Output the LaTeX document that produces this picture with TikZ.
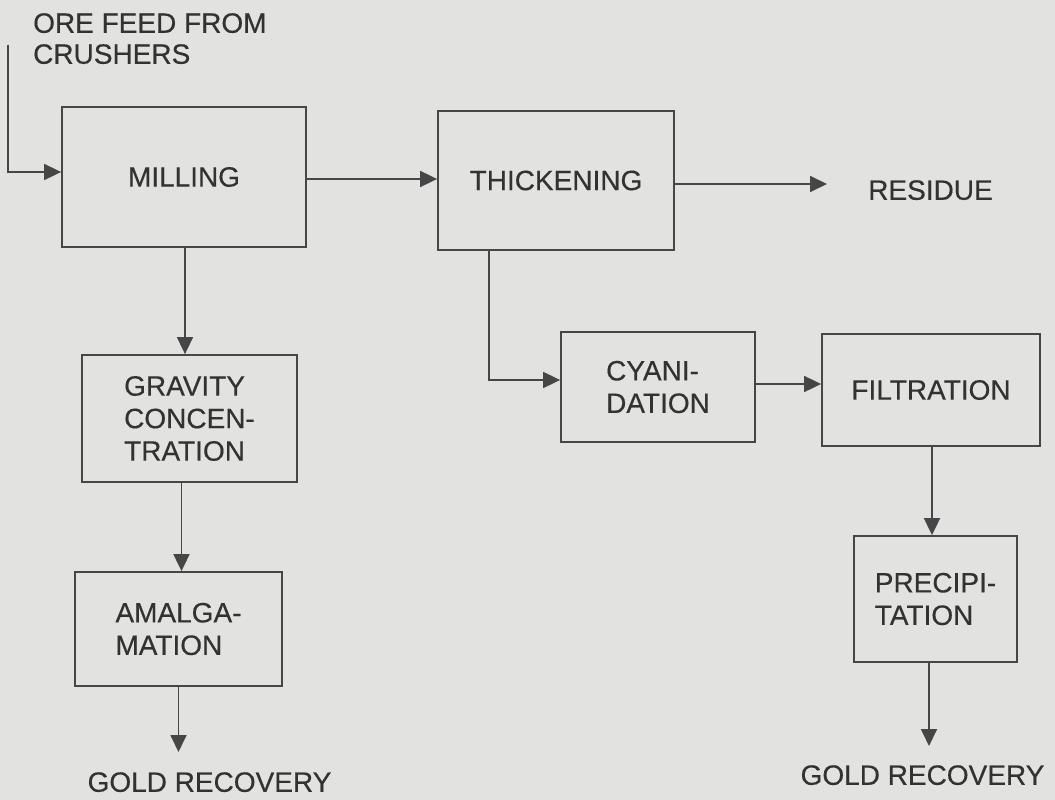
\documentclass[tikz,border=0pt]{standalone}
\usepackage{fontspec}
\setmainfont[FakeBold=0.35]{Liberation Sans}
\usetikzlibrary{arrows.meta}
\definecolor{paper}{RGB}{226,226,224}
\definecolor{ink}{RGB}{70,70,70}
\definecolor{type}{RGB}{50,50,50}
\begin{document}
\begin{tikzpicture}[x=1pt, y=-1pt,
  font=\fontsize{28}{32.5}\selectfont, text=type,
  stage/.style={draw=ink, line width=1.8pt, align=left, inner sep=0pt},
  flow/.style={draw=ink, line width=1.8pt, -{Triangle[length=17pt,width=16pt]}},
  caption/.style={inner sep=0pt, text depth=0pt, align=left}]
  % sheet
  \fill[paper] (0,0) rectangle (1055,800);
  \useasboundingbox (0,0) rectangle (1055,800);

  % process stages
  \node[stage, minimum width=244pt, minimum height=140pt] (mill)  at (184,177)   {MILLING};
  \node[stage, minimum width=236pt, minimum height=139pt] (thick) at (556,180.5) {THICKENING};
  \node[stage, minimum width=215pt, minimum height=127pt] (grav)  at (189.5,418.5) {GRAVITY\\CONCEN-\\TRATION};
  \node[stage, minimum width=207pt, minimum height=114pt] (amal)  at (178.5,629) {AMALGA-\\MATION};
  \node[stage, minimum width=194pt, minimum height=110pt] (cyan)  at (658,387)   {CYANI-\\DATION};
  \node[stage, minimum width=218pt, minimum height=112pt] (filt)  at (931,390)   {FILTRATION};
  \node[stage, minimum width=163pt, minimum height=126pt] (prec)  at (935.5,599) {PRECIPI-\\TATION};

  % inputs and outputs
  \node[caption, anchor=north west, font=\fontsize{28}{31}\selectfont] (feed) at (33,13) {ORE FEED FROM\\CRUSHERS};
  \node[caption] (res)   at (930.5,190) {RESIDUE};
  \node[caption] (gold1) at (209.5,782) {GOLD RECOVERY};
  \node[caption] (gold2) at (922.5,775) {GOLD RECOVERY};
  \coordinate (feedin) at (8,45);
  \coordinate (restip) at (827,184);
  \coordinate (tip1)   at (178.5,752);
  \coordinate (tip2)   at (929,746);

  % flow lines
  \draw[flow] (feedin) |- ([yshift=5pt]mill.west);
  \draw[flow] ([yshift=-2pt]mill.east) -- ([yshift=-2pt]mill.east -| thick.west);
  \draw[flow] ([yshift=-3.5pt]thick.east) -- (restip);
  \draw[flow] ([xshift=1pt]mill.south) -- ([xshift=1pt]mill.south |- grav.north);
  \draw[flow] ([xshift=-8pt]grav.south) -- ([xshift=-8pt]grav.south |- amal.north);
  \draw[flow] (amal.south) -- (amal.south |- tip1);
  \draw[flow] ([xshift=-67pt]thick.south) |- ([yshift=7pt]cyan.west);
  \draw[flow] ([yshift=3pt]cyan.east) -- ([yshift=3pt]cyan.east -| filt.west);
  \draw[flow] ([xshift=1pt]filt.south) -- ([xshift=1pt]filt.south |- prec.north);
  \draw[flow] (prec.south -| tip2) -- (tip2);
\end{tikzpicture}
\end{document}
